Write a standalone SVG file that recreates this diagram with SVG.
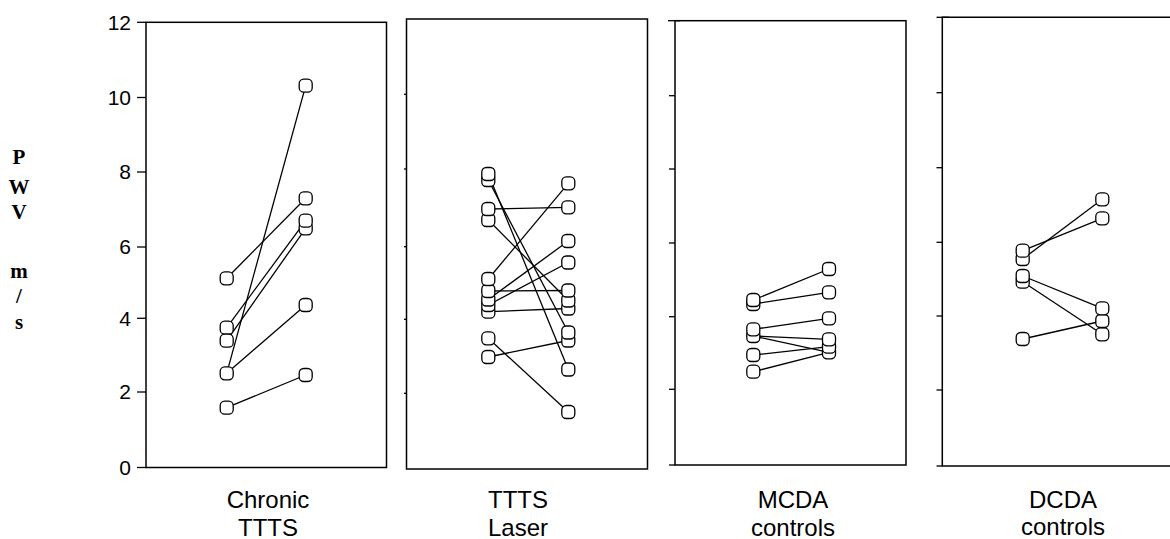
<svg xmlns="http://www.w3.org/2000/svg" xmlns:xlink="http://www.w3.org/1999/xlink" width="1170" height="539" viewBox="0 0 1170 539">
<style>
.frame{fill:none;stroke:#000;stroke-width:1.5}
.ax{stroke:#000;stroke-width:1.5;fill:none}
.tk{stroke:#000;stroke-width:1.3}
.ln{stroke:#000;stroke-width:1.3;fill:none}
.num{font-family:"Liberation Sans",Arial,sans-serif;font-size:21px;fill:#000;text-anchor:end}
.cat{font-family:"Liberation Sans",Arial,sans-serif;font-size:24px;fill:#000;text-anchor:middle}
.yl{font-family:"Liberation Serif","Times New Roman",serif;font-size:21px;font-weight:bold;fill:#000;text-anchor:middle}
</style>
<defs>
<rect id="m" x="-6.5" y="-6.5" width="13" height="13" rx="4.5" fill="#fff" stroke="#000" stroke-width="1.3"/>
</defs>
<rect width="1170" height="539" fill="#fff"/>

<g id="y-label">
<text class="yl" x="19" y="164">P</text>
<text class="yl" x="19" y="194">W</text>
<text class="yl" x="19" y="219">V</text>
<text class="yl" x="19" y="278">m</text>
<text class="yl" x="19" y="303">/</text>
<text class="yl" x="19" y="329">s</text>
</g>

<g id="y-axis">
<line class="tk" x1="137" y1="22.3" x2="146" y2="22.3"/>
<line class="tk" x1="137" y1="97.5" x2="146" y2="97.5"/>
<line class="tk" x1="137" y1="172" x2="146" y2="172"/>
<line class="tk" x1="137" y1="247" x2="146" y2="247"/>
<line class="tk" x1="137" y1="318.3" x2="146" y2="318.3"/>
<line class="tk" x1="137" y1="392" x2="146" y2="392"/>
<line class="tk" x1="137" y1="467.5" x2="146" y2="467.5"/>
<text class="num" x="131" y="29.5">12</text>
<text class="num" x="131" y="104.5">10</text>
<text class="num" x="131" y="179">8</text>
<text class="num" x="131" y="254">6</text>
<text class="num" x="131" y="325.5">4</text>
<text class="num" x="131" y="399">2</text>
<text class="num" x="131" y="474.5">0</text>
</g>

<g id="panel1">
<rect class="frame" x="146" y="22.3" width="240.5" height="445.2"/>
<text class="cat" x="268" y="508">Chronic</text>
<text class="cat" x="268" y="536">TTTS</text>
</g>

<g id="panel2">
<rect class="frame" x="406.5" y="19" width="241" height="450"/>
<line class="tk" x1="404" y1="94.3" x2="407" y2="94.3"/>
<line class="tk" x1="404" y1="169" x2="407" y2="169"/>
<line class="tk" x1="404" y1="246.7" x2="407" y2="246.7"/>
<line class="tk" x1="404" y1="319.3" x2="407" y2="319.3"/>
<line class="tk" x1="404" y1="393.3" x2="407" y2="393.3"/>
<text class="cat" x="518" y="508">TTTS</text>
<text class="cat" x="518" y="536">Laser</text>
</g>

<g id="panel3">
<rect class="frame" x="675" y="20.7" width="231" height="444.3"/>
<line class="tk" x1="668" y1="20.7" x2="680" y2="20.7"/>
<line class="tk" x1="669" y1="95.7" x2="675" y2="95.7"/>
<line class="tk" x1="669" y1="169" x2="675" y2="169"/>
<line class="tk" x1="669" y1="243" x2="675" y2="243"/>
<line class="tk" x1="669" y1="316.7" x2="675" y2="316.7"/>
<line class="tk" x1="669" y1="389.3" x2="675" y2="389.3"/>
<line class="tk" x1="669" y1="465" x2="675" y2="465"/>
<text class="cat" x="793" y="508">MCDA</text>
<text class="cat" x="793" y="536">controls</text>
</g>

<g id="panel4">
<polyline class="ax" points="1170,17.3 942.3,17.3 942.3,466 1170,466"/>
<line class="tk" x1="936.5" y1="17.3" x2="949" y2="17.3"/>
<line class="tk" x1="936.5" y1="92.7" x2="942.3" y2="92.7"/>
<line class="tk" x1="936.5" y1="167.7" x2="942.3" y2="167.7"/>
<line class="tk" x1="936.5" y1="242.3" x2="942.3" y2="242.3"/>
<line class="tk" x1="936.5" y1="316" x2="942.3" y2="316"/>
<line class="tk" x1="936.5" y1="390" x2="942.3" y2="390"/>
<line class="tk" x1="936.5" y1="466" x2="942.3" y2="466"/>
<text class="cat" x="1063" y="508">DCDA</text>
<text class="cat" x="1063" y="535">controls</text>
</g>

<g id="connectors">
<line class="ln" x1="226.7" y1="278.3" x2="305.7" y2="198.3"/>
<line class="ln" x1="226.7" y1="327.7" x2="305.7" y2="220.7"/>
<line class="ln" x1="226.7" y1="340.7" x2="305.7" y2="228.3"/>
<line class="ln" x1="226.7" y1="373.3" x2="305.7" y2="85.7"/>
<line class="ln" x1="226.7" y1="373.3" x2="305.7" y2="305"/>
<line class="ln" x1="226.7" y1="407.7" x2="305.7" y2="375"/>

<line class="ln" x1="488.3" y1="174" x2="568.3" y2="369.5"/>
<line class="ln" x1="488.3" y1="180" x2="568.3" y2="332.5"/>
<line class="ln" x1="488.3" y1="209" x2="568.3" y2="207.3"/>
<line class="ln" x1="488.3" y1="220" x2="568.3" y2="300.5"/>
<line class="ln" x1="488.3" y1="279" x2="568.3" y2="183.3"/>
<line class="ln" x1="488.3" y1="291" x2="568.3" y2="290.5"/>
<line class="ln" x1="488.3" y1="299.5" x2="568.3" y2="241"/>
<line class="ln" x1="488.3" y1="305" x2="568.3" y2="262.5"/>
<line class="ln" x1="488.3" y1="311.7" x2="568.3" y2="308.5"/>
<line class="ln" x1="488.3" y1="338.3" x2="568.3" y2="412"/>
<line class="ln" x1="488.3" y1="357" x2="568.3" y2="340.5"/>

<line class="ln" x1="753.3" y1="300" x2="829" y2="269"/>
<line class="ln" x1="753.3" y1="304" x2="829" y2="292.3"/>
<line class="ln" x1="753.3" y1="329.3" x2="829" y2="318.3"/>
<line class="ln" x1="753.3" y1="336" x2="829" y2="339.3"/>
<line class="ln" x1="753.3" y1="336" x2="829" y2="352.3"/>
<line class="ln" x1="753.3" y1="355" x2="829" y2="346.7"/>
<line class="ln" x1="753.3" y1="371.7" x2="829" y2="352.3"/>

<line class="ln" x1="1022.7" y1="250.7" x2="1102.3" y2="218.3"/>
<line class="ln" x1="1022.7" y1="259" x2="1102.3" y2="199.3"/>
<line class="ln" x1="1022.7" y1="276" x2="1102.3" y2="308.3"/>
<line class="ln" x1="1022.7" y1="281.7" x2="1102.3" y2="334.3"/>
<line class="ln" x1="1022.7" y1="339" x2="1102.3" y2="321"/>
</g>

<g id="points-panel1">
<use id="p1-l1" xlink:href="#m" x="226.7" y="278.3"/>
<use id="p1-l2" xlink:href="#m" x="226.7" y="327.7"/>
<use id="p1-l3" xlink:href="#m" x="226.7" y="340.7"/>
<use id="p1-l4" xlink:href="#m" x="226.7" y="373.3"/>
<use id="p1-l5" xlink:href="#m" x="226.7" y="407.7"/>
<use id="p1-r1" xlink:href="#m" x="305.7" y="85.7"/>
<use id="p1-r2" xlink:href="#m" x="305.7" y="198.3"/>
<use id="p1-r3" xlink:href="#m" x="305.7" y="228.3"/>
<use id="p1-r4" xlink:href="#m" x="305.7" y="220.7"/>
<use id="p1-r5" xlink:href="#m" x="305.7" y="305"/>
<use id="p1-r6" xlink:href="#m" x="305.7" y="375"/>
</g>

<g id="points-panel2">
<use id="p2-l2" xlink:href="#m" x="488.3" y="180"/>
<use id="p2-l1" xlink:href="#m" x="488.3" y="174"/>
<use id="p2-l4" xlink:href="#m" x="488.3" y="220"/>
<use id="p2-l3" xlink:href="#m" x="488.3" y="209"/>
<use id="p2-l9" xlink:href="#m" x="488.3" y="311.7"/>
<use id="p2-l8" xlink:href="#m" x="488.3" y="305"/>
<use id="p2-l7" xlink:href="#m" x="488.3" y="299.5"/>
<use id="p2-l6" xlink:href="#m" x="488.3" y="291"/>
<use id="p2-l5" xlink:href="#m" x="488.3" y="279"/>
<use id="p2-l10" xlink:href="#m" x="488.3" y="338.3"/>
<use id="p2-l11" xlink:href="#m" x="488.3" y="357"/>
<use id="p2-r1" xlink:href="#m" x="568.3" y="183.3"/>
<use id="p2-r2" xlink:href="#m" x="568.3" y="207.3"/>
<use id="p2-r3" xlink:href="#m" x="568.3" y="241"/>
<use id="p2-r4" xlink:href="#m" x="568.3" y="262.5"/>
<use id="p2-r7" xlink:href="#m" x="568.3" y="308.5"/>
<use id="p2-r6" xlink:href="#m" x="568.3" y="300.5"/>
<use id="p2-r5" xlink:href="#m" x="568.3" y="290.5"/>
<use id="p2-r9" xlink:href="#m" x="568.3" y="340.5"/>
<use id="p2-r8" xlink:href="#m" x="568.3" y="332.5"/>
<use id="p2-r10" xlink:href="#m" x="568.3" y="369.5"/>
<use id="p2-r11" xlink:href="#m" x="568.3" y="412"/>
</g>

<g id="points-panel3">
<use id="p3-l2" xlink:href="#m" x="753.3" y="304"/>
<use id="p3-l1" xlink:href="#m" x="753.3" y="300"/>
<use id="p3-l4" xlink:href="#m" x="753.3" y="336"/>
<use id="p3-l3" xlink:href="#m" x="753.3" y="329.3"/>
<use id="p3-l5" xlink:href="#m" x="753.3" y="355"/>
<use id="p3-l6" xlink:href="#m" x="753.3" y="371.7"/>
<use id="p3-r1" xlink:href="#m" x="829" y="269"/>
<use id="p3-r2" xlink:href="#m" x="829" y="292.3"/>
<use id="p3-r3" xlink:href="#m" x="829" y="318.3"/>
<use id="p3-r6" xlink:href="#m" x="829" y="352.3"/>
<use id="p3-r5" xlink:href="#m" x="829" y="346.7"/>
<use id="p3-r4" xlink:href="#m" x="829" y="339.3"/>
</g>

<g id="points-panel4">
<use id="p4-l2" xlink:href="#m" x="1022.7" y="259"/>
<use id="p4-l1" xlink:href="#m" x="1022.7" y="250.7"/>
<use id="p4-l4" xlink:href="#m" x="1022.7" y="281.7"/>
<use id="p4-l3" xlink:href="#m" x="1022.7" y="276"/>
<use id="p4-l5" xlink:href="#m" x="1022.7" y="339"/>
<use id="p4-r1" xlink:href="#m" x="1102.3" y="199.3"/>
<use id="p4-r2" xlink:href="#m" x="1102.3" y="218.3"/>
<use id="p4-r5" xlink:href="#m" x="1102.3" y="334.3"/>
<use id="p4-r4" xlink:href="#m" x="1102.3" y="321"/>
<use id="p4-r3" xlink:href="#m" x="1102.3" y="308.3"/>
</g>
</svg>
